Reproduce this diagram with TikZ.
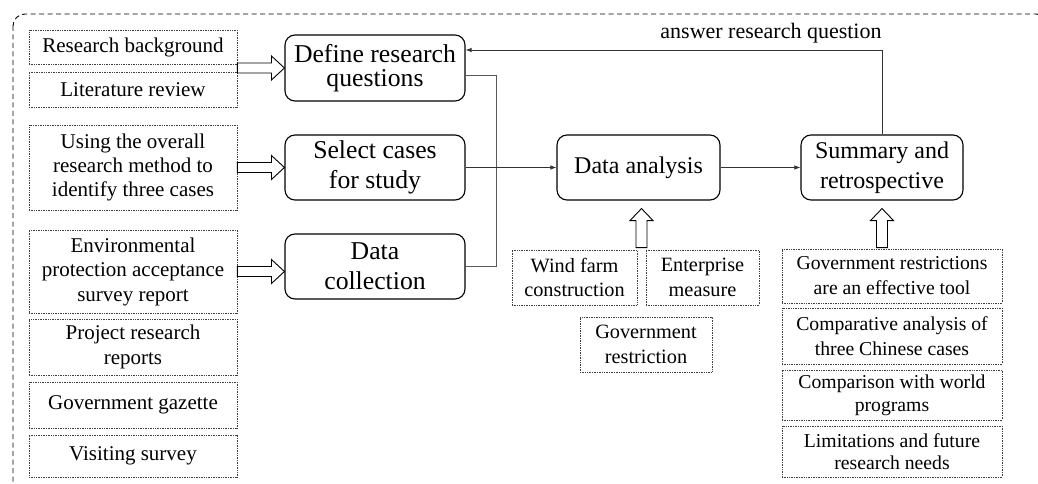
\documentclass[tikz,border=0pt]{standalone}
\usepackage{fontspec}
\setmainfont{Liberation Serif}
\usetikzlibrary{calc,arrows.meta}
\newcommand\hollowR[2]{\draw[hollow] let \p1=(#1), \p2=(#2) in
  (\x1,\y1+5pt) -- (\x2-13pt,\y1+5pt) -- (\x2-13pt,\y1+12pt) -- (\x2,\y1)
  -- (\x2-13pt,\y1-12pt) -- (\x2-13pt,\y1-5pt) -- (\x1,\y1-5pt) -- cycle;}
\newcommand\hollowU[2]{\draw[hollow] let \p1=(#1), \p2=(#2) in
  (\x1-5.5pt,\y1) -- (\x1-5.5pt,\y2-12pt) -- (\x1-11.5pt,\y2-12pt) -- (\x1,\y2)
  -- (\x1+11.5pt,\y2-12pt) -- (\x1+5.5pt,\y2-12pt) -- (\x1+5.5pt,\y1) -- cycle;}
\begin{document}
\begin{tikzpicture}[x=1pt,y=-1pt,
  mainbox/.style={draw=black, line width=1.1pt, rounded corners=10pt, align=center,
    inner sep=0pt, font=\rmfamily\fontsize{24}{30}\selectfont},
  leftmain/.style={mainbox, font=\rmfamily\fontsize{25.7}{30}\selectfont},
  smallbox/.style={draw=black!75, densely dotted, line width=0.7pt, align=center,
    inner sep=0pt, font=\rmfamily\fontsize{21}{24.5}\selectfont},
  midbox/.style={smallbox, font=\rmfamily\fontsize{20.3}{24.5}\selectfont},
  rightbox/.style={smallbox, font=\rmfamily\fontsize{19.7}{24}\selectfont},
  conn/.style={draw=black!65, line width=0.9pt},
  arr/.style={-{Latex[length=6pt,width=4.5pt]}, black!80},
  hollow/.style={draw=black, line width=0.9pt, fill=white},
  outer/.style={draw=black, line width=0.9pt, dash pattern=on 5pt off 3.5pt, rounded corners=12pt}]
\useasboundingbox (0,0) rectangle (1038,484);
\begin{scope}
\clip (0,0) rectangle (1038,484);
\draw[outer] (13,14) rectangle (1048,496);
\end{scope}

% left boxes
\node[smallbox, minimum width=208, minimum height=34] (rb) at (133,47) {Research background};
\node[smallbox, minimum width=208, minimum height=35] (lr) at (133,89.5) {Literature review};
\node[smallbox, minimum width=208, minimum height=85, font=\rmfamily\fontsize{21}{24}\selectfont] (use) at (133,167.5) {Using the overall\\research method to\\identify three cases};
\node[smallbox, minimum width=208, minimum height=83] (env) at (133,271.5) {Environmental\\protection acceptance\\survey report};
\node[smallbox, minimum width=208, minimum height=56] (prr) at (133,347) {Project research\\reports};
\node[smallbox, minimum width=208, minimum height=46] (gg) at (133,405) {Government gazette};
\node[smallbox, minimum width=208, minimum height=42] (vs) at (133,456) {Visiting survey};

% main boxes
\node[leftmain, minimum width=180, minimum height=66, font=\rmfamily\fontsize{25.7}{24.5}\selectfont] (def) at (375,68) {Define research\\questions};
\node[leftmain, minimum width=180, minimum height=65] (sel) at (375,167.5) {Select cases\\for study};
\node[leftmain, minimum width=180, minimum height=65] (dc) at (375,266.5) {Data\\collection};
\node[mainbox, minimum width=163, minimum height=65] (da) at (638.5,167.5) {Data analysis};
\node[mainbox, minimum width=162, minimum height=65] (sum) at (882,167.5) {Summary and\\retrospective};

% bottom middle boxes
\node[midbox, minimum width=125, minimum height=55] (wf) at (574.5,277.5) {Wind farm\\construction};
\node[midbox, minimum width=113, minimum height=55] (em) at (702.5,277.5) {Enterprise\\measure};
\node[midbox, minimum width=132, minimum height=55] (gr) at (646,344.5) {Government\\restriction};

% right boxes
\node[rightbox, minimum width=220, minimum height=54, font=\rmfamily\fontsize{19.7}{25}\selectfont] (r1) at (892,276) {Government restrictions\\are an effective tool};
\node[rightbox, minimum width=220, minimum height=56, font=\rmfamily\fontsize{19.7}{25}\selectfont] (r2) at (892,336) {Comparative analysis of\\three Chinese cases};
\node[rightbox, minimum width=220, minimum height=50, font=\rmfamily\fontsize{19.7}{23}\selectfont] (r3) at (892,395) {Comparison with world\\programs};
\node[rightbox, minimum width=220, minimum height=51, font=\rmfamily\fontsize{19.7}{22}\selectfont] (r4) at (892,451.5) {Limitations and future\\research needs};

% connectors
\coordinate (bus) at (496,167.5);
\draw[conn] ($(def.east)+(0,7)$) -| (bus);
\draw[conn] (dc.east) -| (bus);
\draw[conn, arr] (sel.east) -- (da.west);
\draw[conn, arr] (da.east) -- (sum.west);
\draw[conn, arr] (sum.north) |- ($(def.east)+(0,-18)$);
\node[font=\rmfamily\fontsize{22}{24}\selectfont, inner sep=0pt] (lab) at (771,33) {answer research question};

% hollow arrows
\hollowR{$(rb.south east)!0.5!(lr.north east)$}{def.west}
\hollowR{use.east}{sel.west}
\hollowR{env.east}{dc.west}
\hollowU{$(wf.north east)!0.5!(em.north west)+(0,-2)$}{$(da.south)+(0,8)$}
\hollowU{$(sum.south |- r1.north)+(0,-1)$}{$(sum.south)+(0,8)$}
\end{tikzpicture}
\end{document}
